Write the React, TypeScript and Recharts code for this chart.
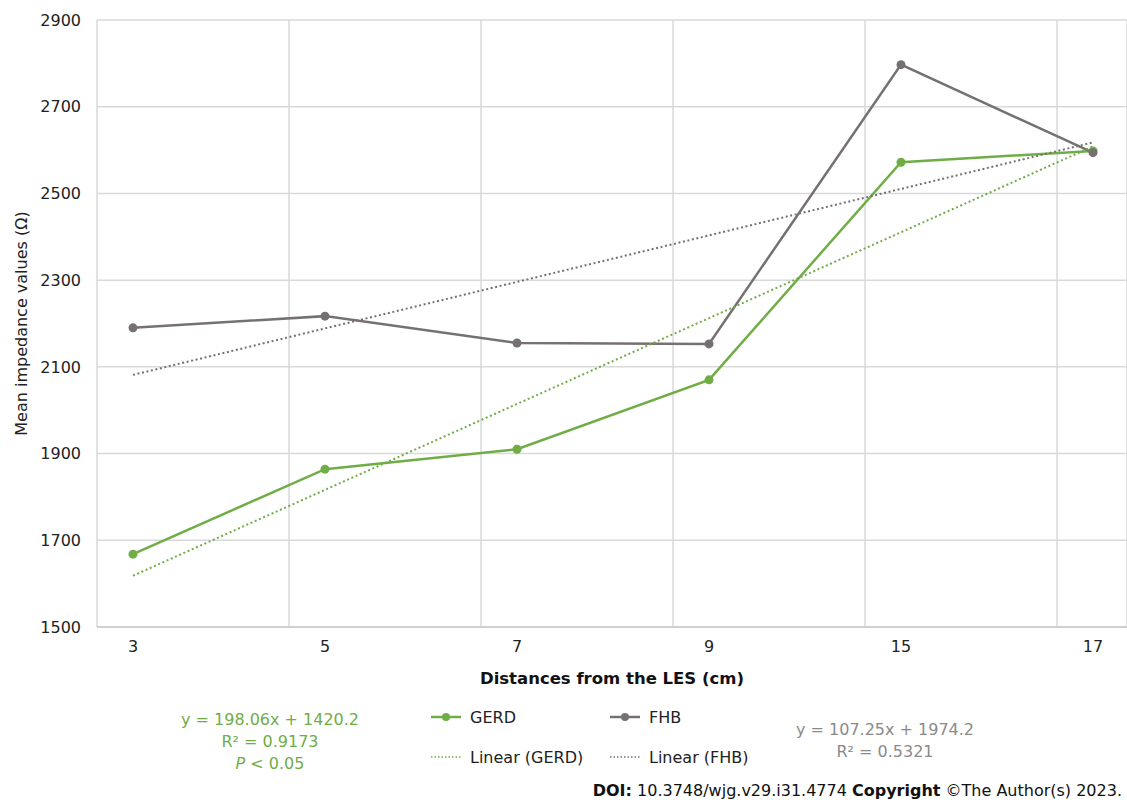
import React from 'react';
import { LineChart, Line, XAxis, YAxis, CartesianGrid } from 'recharts';

// ---- data ----
const categories = ['3', '5', '7', '9', '15', '17'];
const gerdValues = [1668, 1864, 1910, 2070, 2572, 2598];
const fhbValues = [2190, 2217, 2155, 2153, 2797, 2594];
const yTicks = [1500, 1700, 1900, 2100, 2300, 2500, 2700, 2900];
// Excel trendline equations printed on the chart (x = 1..6)
const gerdTrend = { slope: 198.06, intercept: 1420.2 };
const fhbTrend = { slope: 107.25, intercept: 1974.2 };

const GREEN = '#70AD47';
const GRAY = '#767171';
const FONT = '"DejaVu Sans", Verdana, sans-serif';

const positions = categories.map((_, i) => i);
const leftPad = 0.1875;
const rightPad = 0.177;
const xDomain: [number, number] = [-leftPad, categories.length - 1 + rightPad];
const gridTicks = categories.map((_, i) => i - leftPad);

const data = categories.map((c, i) => ({
  pos: i,
  label: c,
  gerd: gerdValues[i],
  fhb: fhbValues[i],
  gerdTrend: gerdTrend.slope * (i + 1) + gerdTrend.intercept,
  fhbTrend: fhbTrend.slope * (i + 1) + fhbTrend.intercept,
}));

const LegendContent = () => {
  const item = (color: string, dotted: boolean, label: string) => (
    <div style={{ display: 'flex', alignItems: 'center', height: 40 }}>
      <svg width={36} height={12} style={{ marginRight: 4 }}>
        <line
          x1={1}
          y1={6}
          x2={31}
          y2={6}
          stroke={color}
          strokeWidth={dotted ? 1.6 : 2.5}
          strokeDasharray={dotted ? '1.5 2' : undefined}
        />
        {!dotted && <circle cx={16} cy={6} r={4} fill={color} />}
      </svg>
      <span style={{ fontSize: 16, color: '#222', fontFamily: FONT }}>{label}</span>
    </div>
  );
  return (
    <div style={{ display: 'grid', gridTemplateColumns: '179px 200px' }}>
      {item(GREEN, false, 'GERD')}
      {item(GRAY, false, 'FHB')}
      {item(GREEN, true, 'Linear (GERD)')}
      {item(GRAY, true, 'Linear (FHB)')}
    </div>
  );
};

export default function App() {
  return (
    <div
      style={{
        position: 'absolute',
        left: 0,
        top: 0,
        width: 1127,
        height: 802,
        background: '#fff',
        fontFamily: FONT,
        overflow: 'hidden',
      }}
    >
      <LineChart
        width={1127}
        height={700}
        data={data}
        margin={{ top: 20, right: 0, left: 0, bottom: 43 }}
        style={{ fontFamily: FONT }}
      >
        <XAxis
          xAxisId="grid"
          dataKey="pos"
          type="number"
          domain={xDomain}
          ticks={gridTicks}
          allowDataOverflow
          hide
        />
        <CartesianGrid xAxisId="grid" stroke="#d9d9d9" strokeWidth={1.5} />
        <XAxis
          dataKey="pos"
          type="number"
          domain={xDomain}
          ticks={positions}
          allowDataOverflow
          tickFormatter={(v: number) => categories[v] ?? ''}
          axisLine={{ stroke: '#d0d0d0', strokeWidth: 2 }}
          tickLine={false}
          tick={{ fontSize: 16, fill: '#222' }}
          tickMargin={8}
          height={30}
        />
        <YAxis
          type="number"
          domain={[1500, 2900]}
          ticks={yTicks}
          width={97}
          axisLine={false}
          tickLine={false}
          tick={{ fontSize: 16, fill: '#222' }}
          tickMargin={10}
          label={{
            content: (props: any) => {
              const vb = props.viewBox || {};
              const cy = (vb.y ?? 20) + (vb.height ?? 607) / 2;
              return (
                <text
                  x={21}
                  y={cy}
                  transform={`rotate(-90 21 ${cy})`}
                  textAnchor="middle"
                  dominantBaseline="central"
                  fontSize={16}
                  fill="#222"
                  fontFamily={FONT}
                >
                  Mean impedance values (Ω)
                </text>
              );
            },
          }}
        />
        <Line
          dataKey="gerd"
          name="GERD"
          stroke={GREEN}
          strokeWidth={2.5}
          dot={{ r: 4.5, fill: GREEN, stroke: GREEN, strokeWidth: 0 }}
          isAnimationActive={false}
        />
        <Line
          dataKey="fhb"
          name="FHB"
          stroke={GRAY}
          strokeWidth={2.5}
          dot={{ r: 4.5, fill: GRAY, stroke: GRAY, strokeWidth: 0 }}
          isAnimationActive={false}
        />
        <Line
          dataKey="gerdTrend"
          name="Linear (GERD)"
          stroke={GREEN}
          strokeWidth={2}
          strokeDasharray="2 2.6"
          dot={false}
          isAnimationActive={false}
        />
        <Line
          dataKey="fhbTrend"
          name="Linear (FHB)"
          stroke={GRAY}
          strokeWidth={2}
          strokeDasharray="2 2.6"
          dot={false}
          isAnimationActive={false}
        />
      </LineChart>

      <div style={{ position: 'absolute', left: 430, top: 697, width: 400 }}>
        <LegendContent />
      </div>

      <div
        style={{
          position: 'absolute',
          left: 0,
          width: 1224,
          top: 669,
          textAlign: 'center',
          fontSize: 16.5,
          fontWeight: 'bold',
          color: '#111',
        }}
      >
        Distances from the LES (cm)
      </div>

      <div
        style={{
          position: 'absolute',
          left: 120,
          width: 300,
          top: 709,
          textAlign: 'center',
          fontSize: 16,
          lineHeight: '22px',
          color: GREEN,
        }}
      >
        <div>y = 198.06x + 1420.2</div>
        <div>R² = 0.9173</div>
        <div>
          <i>P</i> &lt; 0.05
        </div>
      </div>

      <div
        style={{
          position: 'absolute',
          left: 735,
          width: 300,
          top: 719,
          textAlign: 'center',
          fontSize: 16,
          lineHeight: '22px',
          color: '#8a8a8a',
        }}
      >
        <div>y = 107.25x + 1974.2</div>
        <div>R² = 0.5321</div>
      </div>

      <div
        style={{
          position: 'absolute',
          right: 5,
          top: 781,
          fontSize: 16,
          color: '#111',
          whiteSpace: 'nowrap',
        }}
      >
        <b>DOI:</b> 10.3748/wjg.v29.i31.4774 <b>Copyright</b> ©The Author(s) 2023.
      </div>
    </div>
  );
}
